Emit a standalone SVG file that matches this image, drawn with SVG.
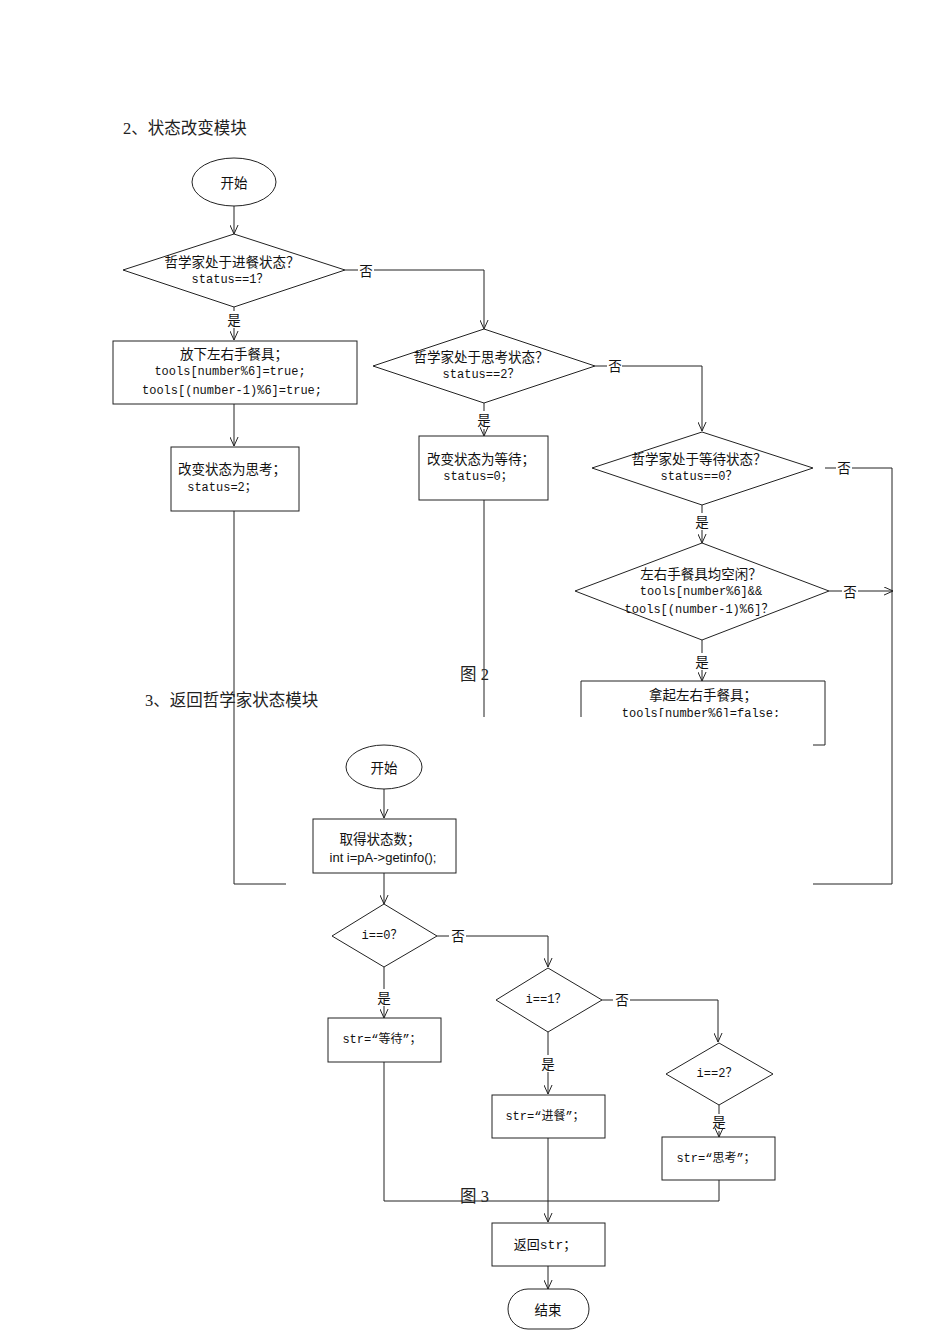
<svg xmlns="http://www.w3.org/2000/svg" width="950" height="1344" viewBox="0 0 950 1344">
<style>
.s{fill:#fff;stroke:#222;stroke-width:1}
.l{fill:none;stroke:#222;stroke-width:1}
.c{font-family:"Noto Sans CJK SC",sans-serif;font-size:13.5px;fill:#111;text-anchor:middle;dominant-baseline:central}
.m{font-family:"Liberation Mono","Noto Sans CJK SC",monospace;font-size:12px;fill:#111;text-anchor:middle;dominant-baseline:central}
.a{font-family:"Liberation Sans","Noto Sans CJK SC",sans-serif;font-size:13px;fill:#111;text-anchor:middle;dominant-baseline:central}
.h{font-family:"Liberation Serif","Noto Sans CJK SC",serif;font-size:16.5px;fill:#222}
</style>
<defs>
<marker id="ar" viewBox="0 0 10 10" refX="10" refY="5" markerWidth="9" markerHeight="9" markerUnits="userSpaceOnUse" orient="auto">
<path d="M0,0.5 L10,5 L0,9.5" fill="none" stroke="#222" stroke-width="1.1"/>
</marker>
<clipPath id="cut"><rect x="0" y="0" width="950" height="717"/></clipPath>
</defs>
<rect width="950" height="1344" fill="#fff"/>

<text class="h" x="123" y="134">2、状态改变模块</text>

<g id="connectors">
<path class="l" d="M234,206 V234" marker-end="url(#ar)"/>
<path class="l" d="M345,270 H358 M374,270 H484 V329" marker-end="url(#ar)"/>
<path class="l" d="M234,307 V311"/>
<path class="l" d="M234,328 V340" marker-end="url(#ar)"/>
<path class="l" d="M234,404 V446" marker-end="url(#ar)"/>
<path class="l" d="M234,511 V884 H286"/>
<path class="l" d="M595,366 H607 M622,366 H702 V431" marker-end="url(#ar)"/>
<path class="l" d="M484,403 V411"/>
<path class="l" d="M484,429 V436" marker-end="url(#ar)"/>
<path class="l" d="M484,500 V717"/>
<path class="l" d="M825,468 H836 M852,468 H892 V884 H813"/>
<path class="l" d="M702,505 V513"/>
<path class="l" d="M702,530 V543" marker-end="url(#ar)"/>
<path class="l" d="M829,591 H842 M858,591 H893" marker-end="url(#ar)"/>
<path class="l" d="M702,640 V653"/>
<path class="l" d="M702,670 V681" marker-end="url(#ar)"/>

<path class="l" d="M384,789 V818" marker-end="url(#ar)"/>
<path class="l" d="M384,873 V904" marker-end="url(#ar)"/>
<path class="l" d="M437,936 H449 M466,936 H548 V967" marker-end="url(#ar)"/>
<path class="l" d="M384,967 V989"/>
<path class="l" d="M384,1006 V1018" marker-end="url(#ar)"/>
<path class="l" d="M384,1062 V1201 H719 V1180"/>
<path class="l" d="M602,1000 H613 M630,1000 H718 V1042" marker-end="url(#ar)"/>
<path class="l" d="M548,1032 V1055"/>
<path class="l" d="M548,1072 V1094" marker-end="url(#ar)"/>
<path class="l" d="M548,1138 V1222" marker-end="url(#ar)"/>
<path class="l" d="M719,1105 V1114"/>
<path class="l" d="M719,1131 V1137" marker-end="url(#ar)"/>
<path class="l" d="M548,1266 V1289" marker-end="url(#ar)"/>

<text class="c" x="366" y="270">否</text>
<text class="c" x="615" y="365">否</text>
<text class="c" x="844" y="467">否</text>
<text class="c" x="850" y="591">否</text>
<text class="c" x="234" y="319">是</text>
<text class="c" x="484" y="419">是</text>
<text class="c" x="702" y="521">是</text>
<text class="c" x="702" y="661">是</text>
<text class="c" x="458" y="935">否</text>
<text class="c" x="622" y="999">否</text>
<text class="c" x="384" y="997">是</text>
<text class="c" x="548" y="1063">是</text>
<text class="c" x="719" y="1121">是</text>
</g>

<g id="start1">
<ellipse class="s" cx="234" cy="182" rx="42" ry="24"/>
<text class="c" x="234" y="182">开始</text>
</g>
<g id="d1">
<polygon class="s" points="234,234 345,270 234,307 123,270"/>
<text class="c" x="232" y="261">哲学家处于进餐状态？</text>
<text class="m" x="230" y="280">status==1？</text>
</g>
<g id="r1">
<rect class="s" x="113" y="341" width="244" height="63"/>
<text class="c" x="234" y="353">放下左右手餐具；</text>
<text class="m" x="230" y="372">tools[number%6]=true;</text>
<text class="m" x="232" y="391">tools[(number-1)%6]=true;</text>
</g>
<g id="r2">
<rect class="s" x="171" y="447" width="128" height="64"/>
<text class="c" x="232" y="468">改变状态为思考；</text>
<text class="m" x="222" y="488">status=2；</text>
</g>
<g id="d2">
<polygon class="s" points="484,329 595,366 484,403 373,366"/>
<text class="c" x="481" y="356">哲学家处于思考状态？</text>
<text class="m" x="481" y="375">status==2？</text>
</g>
<g id="r3">
<rect class="s" x="419" y="436" width="129" height="64"/>
<text class="c" x="481" y="458">改变状态为等待；</text>
<text class="m" x="478" y="477">status=0；</text>
</g>
<g id="d3">
<polygon class="s" points="702,432 813,468 702,505 592,468"/>
<text class="c" x="699" y="458">哲学家处于等待状态？</text>
<text class="m" x="699" y="477">status==0？</text>
</g>
<g id="d4">
<polygon class="s" points="702,543 829,591 702,640 575,591"/>
<text class="c" x="701" y="573">左右手餐具均空闲？</text>
<text class="m" x="701" y="592">tools[number%6]&amp;&amp;</text>
<text class="m" x="699" y="610">tools[(number-1)%6]？</text>
</g>
<g id="r5">
<path class="l" d="M581,717 V681 H825 V745 H813"/>
<text class="c" x="703" y="694">拿起左右手餐具；</text>
<text class="m" x="701" y="714" clip-path="url(#cut)">tools[number%6]=false;</text>
</g>

<text class="h" x="460" y="680">图 2</text>
<text class="h" x="145" y="706">3、返回哲学家状态模块</text>

<g id="start2">
<ellipse class="s" cx="384" cy="767" rx="38" ry="22"/>
<text class="c" x="384" y="767">开始</text>
</g>
<g id="get">
<rect class="s" x="313" y="819" width="143" height="54"/>
<text class="c" x="380" y="838">取得状态数；</text>
<text class="a" x="383" y="857">int i=pA-&gt;getinfo();</text>
</g>
<g id="e0">
<polygon class="s" points="384,904 437,936 384,967 332,936"/>
<text class="m" x="382" y="936">i==0？</text>
</g>
<g id="wait">
<rect class="s" x="328" y="1018" width="113" height="44"/>
<text class="m" x="382" y="1040">str=“等待”；</text>
</g>
<g id="e1">
<polygon class="s" points="548,968 602,1000 548,1032 496,1000"/>
<text class="m" x="546" y="1000">i==1？</text>
</g>
<g id="eat">
<rect class="s" x="492" y="1095" width="113" height="43"/>
<text class="m" x="545" y="1117">str=“进餐”；</text>
</g>
<g id="e2">
<polygon class="s" points="719,1043 773,1074 719,1105 666,1074"/>
<text class="m" x="717" y="1074">i==2？</text>
</g>
<g id="think">
<rect class="s" x="662" y="1137" width="113" height="43"/>
<text class="m" x="716" y="1159">str=“思考”；</text>
</g>
<text class="h" x="460" y="1202">图 3</text>
<g id="ret">
<rect class="s" x="492" y="1223" width="113" height="43"/>
<text class="m" x="545" y="1245" style="font-size:13px">返回str；</text>
</g>
<g id="end">
<rect class="s" x="508" y="1289" width="81" height="40" rx="20" ry="20"/>
<text class="c" x="548" y="1309">结束</text>
</g>
</svg>
